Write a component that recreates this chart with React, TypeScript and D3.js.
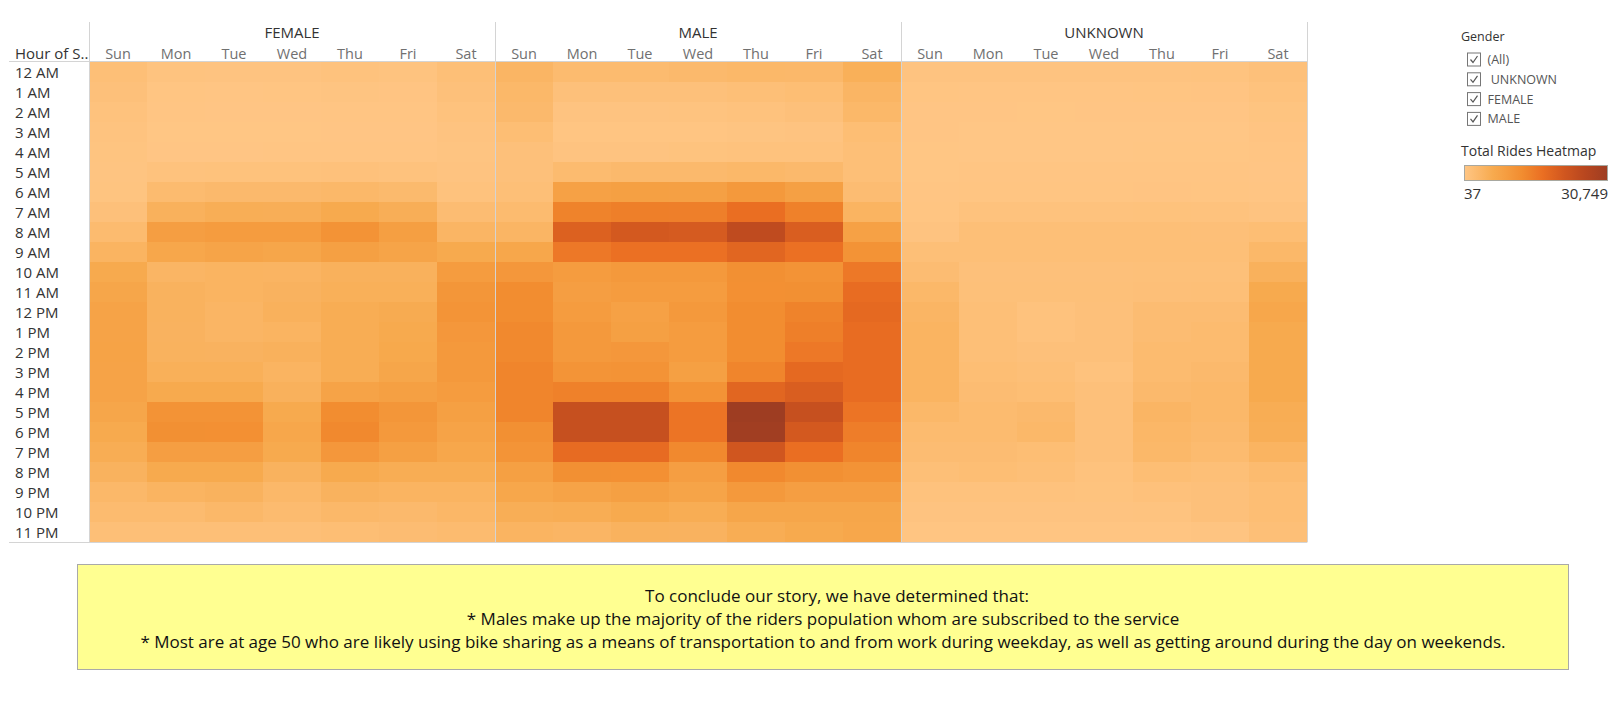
import React from "react";
import * as d3 from "d3";

const genders = ["FEMALE", "MALE", "UNKNOWN"];
const days = ["Sun", "Mon", "Tue", "Wed", "Thu", "Fri", "Sat"];
const hours = [
  "12 AM", "1 AM", "2 AM", "3 AM", "4 AM", "5 AM", "6 AM", "7 AM", "8 AM", "9 AM", "10 AM", "11 AM",
  "12 PM", "1 PM", "2 PM", "3 PM", "4 PM", "5 PM", "6 PM", "7 PM", "8 PM", "9 PM", "10 PM", "11 PM",
];

// rows = hours, columns = Sun..Sat
const femaleRides = [
  [1580, 660, 610, 640, 930, 700, 1560],
  [1290, 340, 300, 320, 520, 400, 1270],
  [960, 210, 190, 200, 280, 260, 930],
  [700, 130, 120, 140, 170, 160, 640],
  [560, 200, 190, 210, 230, 220, 520],
  [520, 960, 1000, 990, 1110, 920, 600],
  [560, 2500, 2800, 2780, 3110, 2760, 980],
  [1260, 4640, 5260, 5220, 6180, 5200, 2190],
  [2500, 8640, 9250, 9220, 11090, 8600, 3720],
  [4030, 6790, 7410, 7100, 8330, 7380, 6180],
  [6180, 3720, 4030, 4000, 4640, 4600, 9250],
  [7100, 4340, 4030, 4330, 4950, 4920, 10480],
  [7710, 4340, 3720, 4640, 5560, 5870, 10790],
  [7710, 4330, 3700, 4030, 5560, 6180, 10170],
  [7720, 4340, 4320, 4640, 5560, 6490, 9860],
  [7700, 4950, 4940, 4030, 5550, 7100, 9850],
  [7710, 6180, 6170, 4640, 7710, 8330, 9250],
  [7100, 11090, 11080, 6180, 12320, 10480, 8330],
  [6180, 11710, 11700, 6790, 12940, 9860, 7710],
  [5560, 8640, 8630, 6180, 10170, 8330, 6790],
  [4340, 6180, 6170, 4340, 6180, 5560, 5560],
  [3110, 4030, 4340, 3110, 4340, 4030, 4030],
  [2500, 2500, 3110, 2500, 3110, 2800, 3420],
  [1570, 1570, 1560, 1580, 1880, 2190, 2500],
];

const maleRides = [
  [3720, 2500, 2480, 2800, 3110, 3100, 4950],
  [3110, 1270, 1260, 1280, 1570, 1880, 3720],
  [2800, 650, 640, 660, 960, 1270, 3110],
  [1880, 340, 330, 350, 500, 650, 1880],
  [1270, 650, 640, 800, 960, 950, 1570],
  [1270, 2500, 2800, 2790, 3110, 2780, 1570],
  [1570, 8020, 8330, 8320, 9860, 8300, 2190],
  [2500, 13860, 14470, 14460, 16930, 14160, 4030],
  [3720, 19390, 20920, 20610, 24610, 20000, 8020],
  [6790, 15390, 16620, 16600, 18460, 16610, 11090],
  [10170, 9250, 9860, 9850, 11710, 11090, 15390],
  [12320, 8640, 9250, 9240, 11700, 11710, 17240],
  [12320, 9250, 8020, 9860, 12320, 13860, 17850],
  [12940, 9860, 8330, 9250, 12310, 14470, 17240],
  [12930, 9850, 10170, 9240, 12320, 15390, 17230],
  [13550, 10790, 11090, 8330, 13550, 17850, 17240],
  [13540, 14160, 14150, 11090, 18460, 20000, 17230],
  [13550, 23380, 23370, 16010, 30749, 23380, 16010],
  [11710, 23380, 23370, 16000, 30130, 20920, 14770],
  [10790, 17540, 17530, 12940, 21540, 16930, 13550],
  [8330, 11710, 11700, 8640, 12940, 11710, 11090],
  [6790, 7710, 8330, 7410, 9860, 8640, 8640],
  [5260, 5560, 6180, 5550, 7100, 7100, 7100],
  [4030, 3720, 4340, 4330, 5560, 6180, 6790],
];

const unknownRides = [
  [650, 620, 600, 610, 640, 660, 1270],
  [340, 300, 290, 310, 330, 380, 960],
  [200, 150, 140, 150, 170, 200, 560],
  [150, 60, 50, 37, 70, 90, 380],
  [120, 80, 70, 90, 100, 110, 260],
  [140, 220, 230, 240, 250, 220, 200],
  [210, 340, 350, 360, 370, 330, 260],
  [340, 960, 980, 970, 1000, 900, 650],
  [650, 1570, 1600, 1580, 1650, 1500, 1880],
  [1570, 1560, 1580, 1550, 1600, 1570, 3110],
  [2190, 1270, 1280, 1290, 1350, 1400, 4640],
  [3110, 1400, 1350, 1370, 1500, 1570, 6180],
  [3720, 1570, 960, 1270, 2190, 2190, 6790],
  [4030, 1570, 960, 1270, 2190, 2500, 6180],
  [4030, 1570, 1270, 1260, 2500, 2500, 6180],
  [4030, 1880, 1570, 960, 2500, 2800, 6180],
  [4030, 2190, 1880, 1270, 2800, 3110, 6180],
  [3110, 2500, 2800, 1270, 3720, 3110, 5560],
  [2500, 2500, 3110, 1270, 3420, 2800, 5260],
  [2190, 2190, 1880, 1270, 3110, 2500, 4030],
  [1570, 1880, 1570, 960, 1880, 1570, 2500],
  [960, 960, 960, 800, 1100, 1270, 1880],
  [650, 650, 650, 640, 700, 1270, 1880],
  [340, 340, 340, 330, 360, 500, 1570],
];

const filterItems = ["(All)", " UNKNOWN", "FEMALE", "MALE"];
const noteLines = [
  "To conclude our story, we have determined that:",
  "* Males make up the majority of the riders population whom are subscribed to the service",
  "* Most are at age 50 who are likely using bike sharing as a means of transportation to and from work during weekday, as well as getting around during the day on weekends.",
];

const paletteStops = [0, 0.2, 0.4, 0.55, 0.7, 0.85, 1];
const paletteColors = ["#ffc685", "#f7aa4e", "#f28d30", "#ea6e22", "#d0561f", "#b7461f", "#9e3d22"];

const FONT = "'Open Sans', sans-serif";

export default function App() {
  const ridesByGender: Record<string, number[][]> = {
    FEMALE: femaleRides,
    MALE: maleRides,
    UNKNOWN: unknownRides,
  };
  const all = [...femaleRides, ...maleRides, ...unknownRides].flat();
  const minV = d3.min(all) as number;
  const maxV = d3.max(all) as number;

  const color = d3
    .scaleLinear<string>()
    .domain(paletteStops.map((s) => minV + s * (maxV - minV)))
    .range(paletteColors)
    .interpolate(d3.interpolateRgb)
    .clamp(true);

  const left = 89;
  const right = 1307;
  const top = 62;
  const bottom = 542;

  const panel = d3.scaleBand<string>().domain(genders).range([left, right]);
  const y = d3.scaleBand<string>().domain(hours).range([top, bottom]);

  const legendX0 = 1464;
  const legendX1 = 1607;

  const noteX = [837, 823, 823];

  return (
    <svg
      width={1622}
      height={719}
      style={{ position: "absolute", left: 0, top: 0, display: "block", fontFamily: FONT }}
    >
      <rect x={0} y={0} width={1622} height={719} fill="#ffffff" />
      {genders.map((g) => {
        const px = panel(g) as number;
        const x = d3.scaleBand<string>().domain(days).range([px, px + panel.bandwidth()]);
        const data = ridesByGender[g];
        return (
          <g key={g}>
            {hours.map((h, r) =>
              days.map((d, c) => (
                <rect
                  key={h + d}
                  x={x(d)}
                  y={y(h)}
                  width={x.bandwidth() + 0.5}
                  height={y.bandwidth() + 0.5}
                  fill={color(data[r][c])}
                />
              ))
            )}
            <text
              x={px + panel.bandwidth() / 2}
              y={32}
              textAnchor="middle"
              dominantBaseline="central"
              fontSize={15}
              fill="#333333"
            >
              {g}
            </text>
            {days.map((d) => (
              <text
                key={d}
                x={(x(d) as number) + x.bandwidth() / 2}
                y={53}
                textAnchor="middle"
                dominantBaseline="central"
                fontSize={14.5}
                fill="#707070"
              >
                {d}
              </text>
            ))}
          </g>
        );
      })}
      {/* grid lines */}
      <line x1={9} x2={right} y1={top - 0.5} y2={top - 0.5} stroke="#d4d4d4" />
      <line x1={9} x2={right} y1={bottom + 0.5} y2={bottom + 0.5} stroke="#d4d4d4" />
      {[...genders.map((g) => panel(g) as number), right].map((px, i) => (
        <line key={i} x1={px + 0.5} x2={px + 0.5} y1={22} y2={bottom} stroke="#d4d4d4" />
      ))}
      {/* row header */}
      <text x={15} y={53} dominantBaseline="central" fontSize={15} fill="#333333">
        Hour of S..
      </text>
      {hours.map((h) => (
        <text
          key={h}
          x={15}
          y={(y(h) as number) + y.bandwidth() / 2}
          dominantBaseline="central"
          fontSize={15}
          fill="#333333"
        >
          {h}
        </text>
      ))}

      {/* filter legend */}
      <text x={1461} y={36} dominantBaseline="central" fontSize={12.5} fill="#333333">
        Gender
      </text>
      {filterItems.map((it, i) => {
        const cy = 59.5 + i * 19.8;
        return (
          <g key={it}>
            <rect x={1467.5} y={cy - 6.5} width={13} height={13} fill="#ffffff" stroke="#767676" />
            <polyline
              points={`${1470.5},${cy} ${1473},${cy + 3} ${1477.5},${cy - 3.5}`}
              fill="none"
              stroke="#555555"
              strokeWidth={1.2}
            />
            <text x={1487.5} y={cy} dominantBaseline="central" fontSize={12.5} fill="#555555" xmlSpace="preserve">
              {it}
            </text>
          </g>
        );
      })}

      {/* colour legend */}
      <text x={1461} y={150} dominantBaseline="central" fontSize={14} fill="#333333">
        Total Rides Heatmap
      </text>
      <defs>
        <linearGradient id="rideGrad" x1="0" x2="1" y1="0" y2="0">
          {d3.range(0, 1.0001, 0.05).map((t) => (
            <stop key={t} offset={t} stopColor={color(minV + t * (maxV - minV))} />
          ))}
        </linearGradient>
      </defs>
      <rect
        x={legendX0 + 0.5}
        y={165.5}
        width={legendX1 - legendX0}
        height={15}
        fill="url(#rideGrad)"
        stroke="#a8a8a0"
      />
      <text x={legendX0} y={193} dominantBaseline="central" fontSize={15} fill="#333333">
        {d3.format(",")(minV)}
      </text>
      <text x={legendX1 + 1} y={193} dominantBaseline="central" textAnchor="end" fontSize={15} fill="#333333">
        {d3.format(",")(maxV)}
      </text>

      {/* note box */}
      <rect x={77.5} y={564.5} width={1491} height={105} fill="#ffff91" stroke="#a9a9a9" />
      {noteLines.map((l, i) => (
        <text
          key={i}
          x={noteX[i]}
          y={595 + i * 23}
          textAnchor="middle"
          dominantBaseline="central"
          fontSize={17}
          fill="#111111"
        >
          {l}
        </text>
      ))}
    </svg>
  );
}
